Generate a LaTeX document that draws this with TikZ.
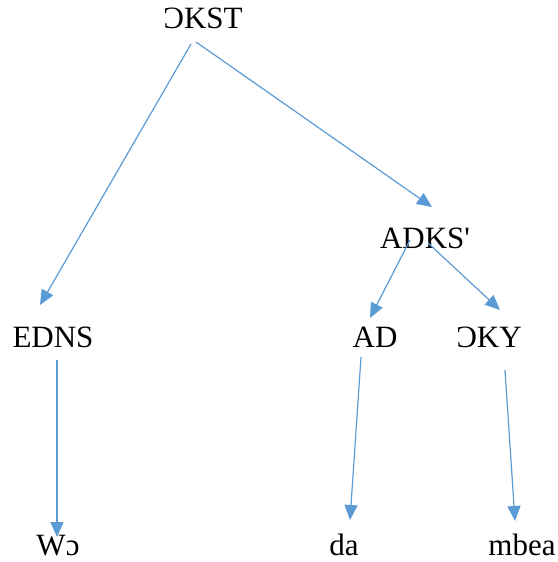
\documentclass[tikz,border=0pt]{standalone}
\usepackage{fontspec}
\setmainfont{Liberation Serif}
\usetikzlibrary{arrows.meta,calc}
\definecolor{linkblue}{HTML}{5B9BD5}
\tikzset{
  word/.style={inner sep=0pt, anchor=base, font=\fontsize{31bp}{37bp}\selectfont},
  link/.style={draw=linkblue, line width=1.2bp, -{Triangle[length=15bp,width=13bp]}}
}
\begin{document}
\begin{tikzpicture}[x=1bp,y=-1bp]
\useasboundingbox (0,0) rectangle (558,562);
% tree labels
\node[word] (root) at (203,29) {ƆKST};
\node[word] (adks) at (425,248) {ADKS\textquotesingle};
\node[word] (edns) at (53,347) {EDNS};
\node[word] (ad) at (375,347) {AD};
\node[word] (oky) at (489,347) {ƆKY};
\node[word] (wo) at (58,555) {Wɔ};
\node[word] (da) at (344,555) {da};
\node[word] (mbea) at (522,555) {mbea};
% branches
\draw[link] ($(root.base)+(-12,15)$) -- ($(edns.base)+(-13,-42)$);
\draw[link] ($(root.base)+(-7,13)$) -- ($(adks.base)+(7,-41)$);
\draw[link] ($(adks.base)+(-15,-8)$) -- ($(ad.base)+(-5,-29)$);
\draw[link] ($(adks.base)+(3,-5)$) -- ($(oky.base)+(11,-37)$);
\draw[link] ($(edns.base)+(4,13)$) -- ($(wo.base)+(-1,-18)$);
\draw[link] ($(ad.base)+(-14,10)$) -- ($(da.base)+(6,-35)$);
\draw[link] ($(oky.base)+(16,23)$) -- ($(mbea.base)+(-7,-34)$);
\end{tikzpicture}
\end{document}
